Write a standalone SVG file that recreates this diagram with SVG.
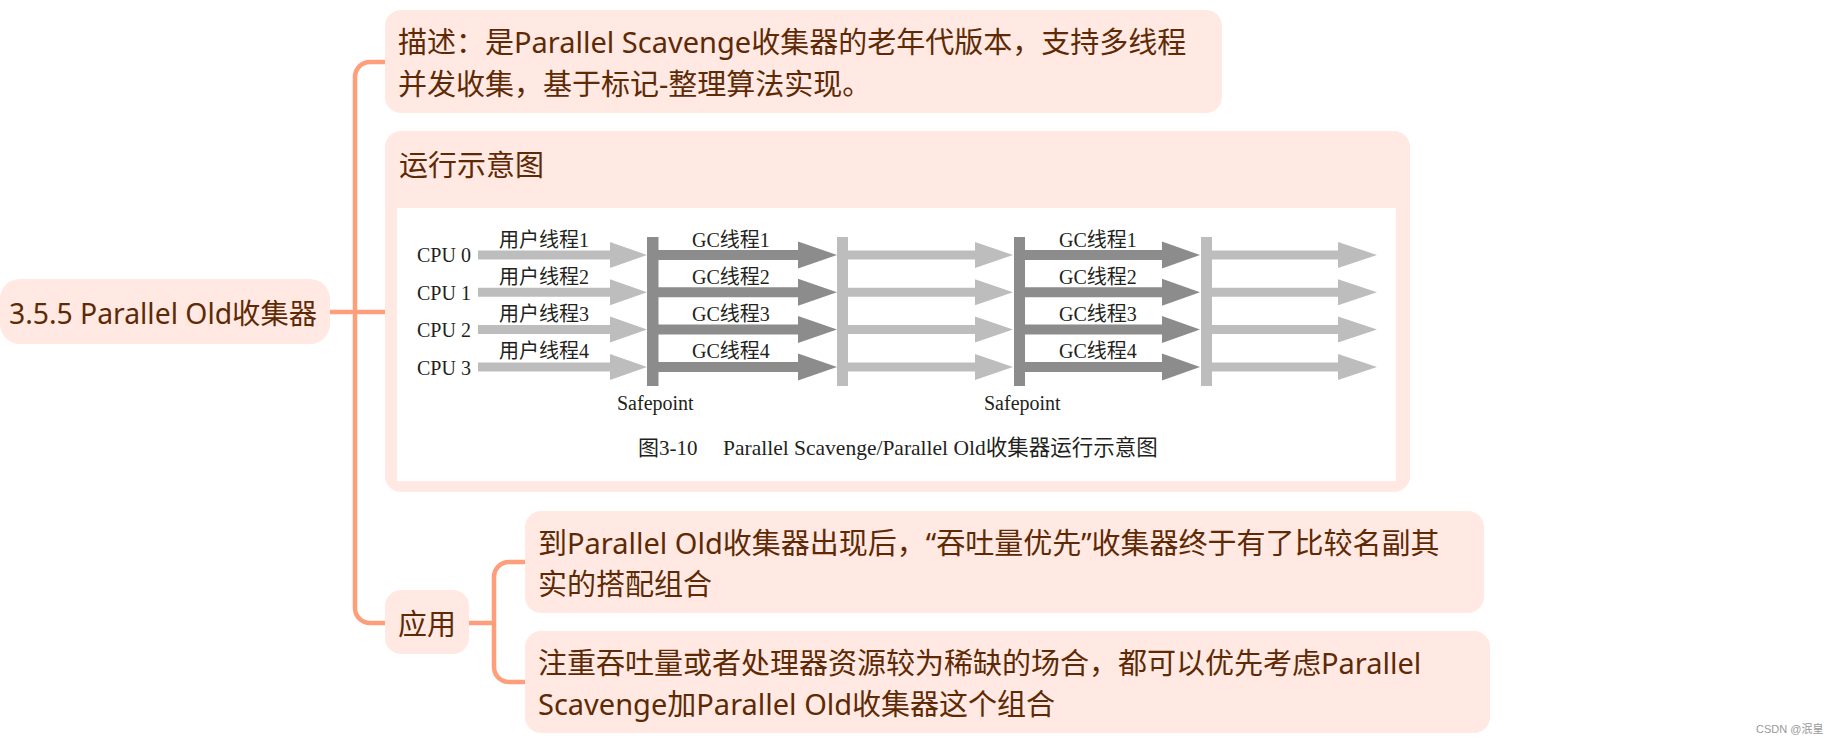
<svg xmlns="http://www.w3.org/2000/svg" width="1839" height="746" viewBox="0 0 1839 746">
<style>
.node{fill:#FFE9E2}
.t{font-family:"Noto Sans","Noto Sans CJK SC",sans-serif;fill:#5E2A06;font-size:29px}
.f{font-family:"Liberation Serif","Noto Sans CJK SC",serif;fill:#231F20;font-size:20px}
.conn{fill:none;stroke:#FF9E7A;stroke-width:4.5}
.lt{fill:#BDBDBD}
.dk{fill:#8C8C8C}
</style>
<defs>
<path id="a1" d="M478,-4.5 H610 V-13 L647,0 L610,13 V4.5 H478 Z"/>
<path id="a2" d="M658,-5 H798 V-13.5 L837,0 L798,13.5 V5 H658 Z"/>
<path id="a3" d="M848,-4.5 H975 V-13 L1013,0 L975,13 V4.5 H848 Z"/>
<path id="a4" d="M1025,-5 H1162 V-13.5 L1200,0 L1162,13.5 V5 H1025 Z"/>
<path id="a5" d="M1212,-4.5 H1338 V-13 L1377,0 L1338,13 V4.5 H1212 Z"/>
</defs>
<rect width="1839" height="746" fill="#FFFFFF"/>
<g id="connectors">
<path class="conn" d="M330,312 H385"/>
<path class="conn" d="M385,62 H370 A15,15 0 0 0 355,77 V608 A15,15 0 0 0 370,623 H386"/>
<path class="conn" d="M469,623 H494"/>
<path class="conn" d="M525,562 H509 A15,15 0 0 0 494,577 V667 A15,15 0 0 0 509,682 H525"/>
</g>
<g id="root">
<rect class="node" x="0" y="279" width="330" height="65" rx="20"/>
<text class="t" x="9" y="324" style="font-size:28.3px">3.5.5 Parallel Old收集器</text>
</g>
<g id="desc">
<rect class="node" x="385" y="10" width="837" height="103" rx="16"/>
<text class="t" x="398" y="53">描述：是Parallel Scavenge收集器的老年代版本，支持多线程</text>
<text class="t" x="398" y="95">并发收集，基于标记-整理算法实现。</text>
</g>
<g id="diagram">
<rect class="node" x="385" y="131" width="1025" height="361" rx="16"/>
<text class="t" x="399" y="176">运行示意图</text>
<rect x="397" y="208" width="999" height="273" fill="#FFFFFF"/>
<rect class="dk" x="647" y="237" width="11.5" height="149"/>
<rect class="lt" x="837" y="237" width="11" height="149"/>
<rect class="dk" x="1014" y="237" width="11" height="149"/>
<rect class="lt" x="1201" y="237" width="11" height="149"/>
<g class="lt">
<use href="#a1" y="255"/><use href="#a1" y="292.3"/><use href="#a1" y="329.6"/><use href="#a1" y="367"/>
<use href="#a3" y="255"/><use href="#a3" y="292.3"/><use href="#a3" y="329.6"/><use href="#a3" y="367"/>
<use href="#a5" y="255"/><use href="#a5" y="292.3"/><use href="#a5" y="329.6"/><use href="#a5" y="367"/>
</g>
<g class="dk">
<use href="#a2" y="255"/><use href="#a2" y="292.3"/><use href="#a2" y="329.6"/><use href="#a2" y="367"/>
<use href="#a4" y="255"/><use href="#a4" y="292.3"/><use href="#a4" y="329.6"/><use href="#a4" y="367"/>
</g>
<text class="f" x="417" y="262">CPU 0</text>
<text class="f" x="417" y="299.5">CPU 1</text>
<text class="f" x="417" y="337">CPU 2</text>
<text class="f" x="417" y="374.5">CPU 3</text>
<text class="f" x="499" y="247">用户线程1</text>
<text class="f" x="499" y="284">用户线程2</text>
<text class="f" x="499" y="321">用户线程3</text>
<text class="f" x="499" y="358">用户线程4</text>
<text class="f" x="692" y="247">GC线程1</text>
<text class="f" x="692" y="284">GC线程2</text>
<text class="f" x="692" y="321">GC线程3</text>
<text class="f" x="692" y="358">GC线程4</text>
<text class="f" x="1059" y="247">GC线程1</text>
<text class="f" x="1059" y="284">GC线程2</text>
<text class="f" x="1059" y="321">GC线程3</text>
<text class="f" x="1059" y="358">GC线程4</text>
<text class="f" x="617" y="410">Safepoint</text>
<text class="f" x="984" y="410">Safepoint</text>
<text class="f" x="638" y="455" style="font-size:21px">图3-10</text>
<text class="f" x="723" y="455" style="font-size:21.5px">Parallel Scavenge/Parallel Old收集器运行示意图</text>
</g>
<g id="apply">
<rect class="node" x="385" y="590" width="84" height="64" rx="16"/>
<text class="t" x="398" y="635">应用</text>
</g>
<g id="apply1">
<rect class="node" x="525" y="511" width="959" height="102" rx="16"/>
<text class="t" x="538" y="554">到Parallel Old收集器出现后，“吞吐量优先”收集器终于有了比较名副其</text>
<text class="t" x="538" y="595">实的搭配组合</text>
</g>
<g id="apply2">
<rect class="node" x="525" y="631" width="965" height="102" rx="16"/>
<text class="t" x="538" y="674">注重吞吐量或者处理器资源较为稀缺的场合，都可以优先考虑Parallel</text>
<text class="t" x="538" y="715">Scavenge加Parallel Old收集器这个组合</text>
</g>
<text x="1756" y="733" style="font-family:'Liberation Sans','Noto Sans CJK SC',sans-serif;font-size:11px;fill:#999999">CSDN @泯皇</text>
</svg>
